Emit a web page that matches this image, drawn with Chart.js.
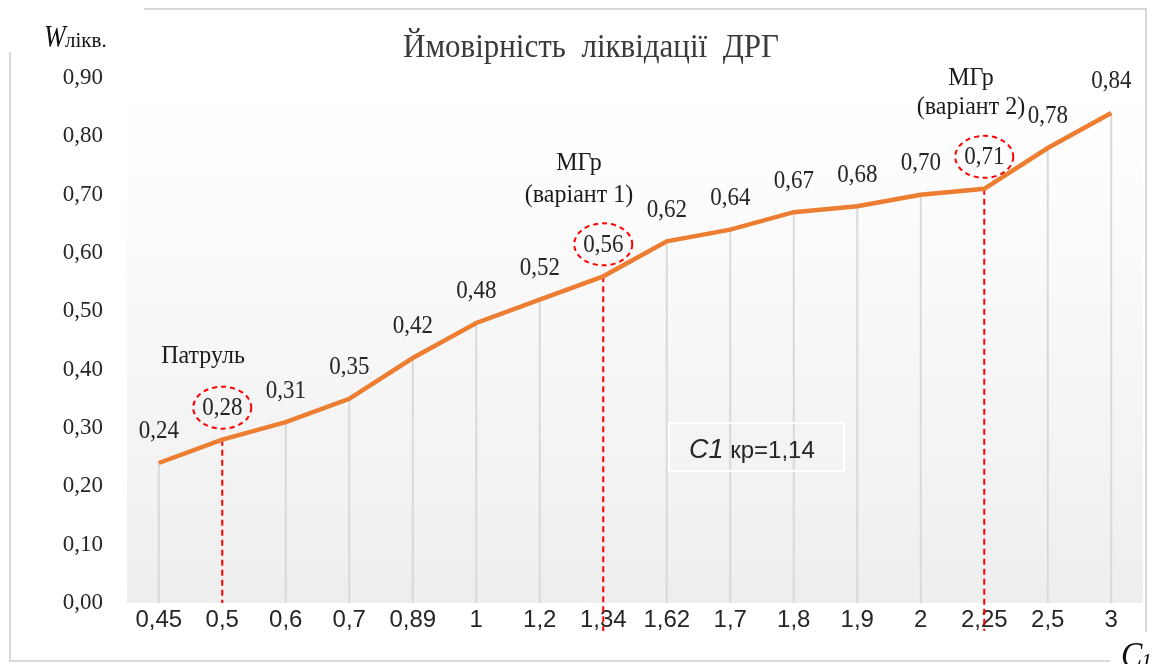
<!DOCTYPE html>
<html lang="uk">
<head>
<meta charset="utf-8">
<title>Ймовірність ліквідації ДРГ</title>
<script src="https://cdn.jsdelivr.net/npm/chart.js@4.4.1/dist/chart.umd.min.js"></script>
<style>
  html, body { margin: 0; padding: 0; background: #fff; }
  #wrap { width: 1156px; height: 664px; }
</style>
</head>
<body>
<div id="wrap"><canvas id="chart" width="1156" height="664"></canvas></div>
<script>
// values
const categories = ['0,45', '0,5', '0,6', '0,7', '0,89', '1', '1,2', '1,34', '1,62', '1,7', '1,8', '1,9', '2', '2,25', '2,5', '3'];
const probability = [0.24, 0.28, 0.31, 0.35, 0.42, 0.48, 0.52, 0.56, 0.62, 0.64, 0.67, 0.68, 0.70, 0.71, 0.78, 0.84];
const yMin = 0, yMax = 0.9, yStep = 0.1;
const markedPoints = ['0,5', '1,34', '2,25'];   // red dashed drop line + circled label

const SERIF = '"Liberation Serif", "Times New Roman", serif';
const SANS = '"Liberation Sans", Arial, sans-serif';

const fmt = v => v.toFixed(2).replace('.', ',');

// text slightly stretched vertically, as in the original picture
function tallText(ctx, text, x, y, sy) {
  ctx.save();
  ctx.translate(x, y);
  ctx.scale(1, sy);
  ctx.fillText(text, 0, 0);
  ctx.restore();
}

const chartDecor = {
  id: 'chartDecor',
  beforeDraw(chart) {
    const { ctx, chartArea: a } = chart;
    ctx.save();
    ctx.fillStyle = '#fff';
    ctx.fillRect(0, 0, chart.width, chart.height);

    // outer frame, broken at the two axis names
    ctx.strokeStyle = '#d9d9d9';
    ctx.lineWidth = 2;
    ctx.strokeRect(10, 9, 1136, 652);
    ctx.fillStyle = '#fff';
    ctx.fillRect(0, 0, 144, 52);
    ctx.fillRect(1110, 632, 46, 32);

    // plot area gradient
    const g = ctx.createLinearGradient(0, a.top - 20, 0, a.bottom);
    g.addColorStop(0, '#ffffff');
    g.addColorStop(0.15, '#fefefe');
    g.addColorStop(1, '#eeeeee');
    ctx.fillStyle = g;
    ctx.fillRect(a.left, a.top - 20, a.right - a.left, a.bottom - a.top + 20);
    ctx.restore();
  },
  beforeDatasetsDraw(chart) {
    const { ctx } = chart;
    const meta = chart.getDatasetMeta(0);
    const y0 = chart.scales.y.getPixelForValue(0);
    ctx.save();
    meta.data.forEach((pt, i) => {
      if (markedPoints.includes(categories[i])) return;
      ctx.strokeStyle = '#d9d9d9';
      ctx.lineWidth = 2;
      ctx.beginPath();
      ctx.moveTo(pt.x, pt.y);
      ctx.lineTo(pt.x, y0);
      ctx.stroke();
    });
    // red dashed drop lines
    ctx.strokeStyle = '#ff0000';
    ctx.lineWidth = 2;
    ctx.setLineDash([6, 4]);
    meta.data.forEach((pt, i) => {
      if (!markedPoints.includes(categories[i])) return;
      const ext = categories[i] === '0,5' ? 0 : 28;
      ctx.beginPath();
      ctx.moveTo(pt.x, pt.y);
      ctx.lineTo(pt.x, y0 + ext);
      ctx.stroke();
    });
    ctx.restore();
  },
  afterDatasetsDraw(chart) {
    const { ctx } = chart;
    const meta = chart.getDatasetMeta(0);
    ctx.save();
    ctx.textAlign = 'center';
    ctx.textBaseline = 'middle';
    ctx.font = '23px ' + SERIF;
    ctx.fillStyle = '#262626';
    meta.data.forEach((pt, i) => {
      const ly = pt.y - 31;
      tallText(ctx, fmt(probability[i]), pt.x, ly, 1.05);
      if (markedPoints.includes(categories[i])) {
        ctx.save();
        ctx.strokeStyle = '#ff0000';
        ctx.lineWidth = 2;
        ctx.setLineDash([5, 4]);
        ctx.beginPath();
        ctx.ellipse(pt.x, ly - 1, 29, 21, 0, 0, Math.PI * 2);
        ctx.stroke();
        ctx.restore();
      }
    });

    // notes next to the marked points
    const notes = [
      { lines: ['Патруль'], x: 203, y: [356] },
      { lines: ['МГр', '(варіант 1)'], x: 579, y: [163, 195] },
      { lines: ['МГр', '(варіант 2)'], x: 971, y: [78, 107] }
    ];
    ctx.font = '24px ' + SERIF;
    ctx.fillStyle = '#1a1a1a';
    notes.forEach(n => n.lines.forEach((t, k) => tallText(ctx, t, n.x, n.y[k], 1.05)));

    // title
    ctx.font = '31px ' + SERIF;
    ctx.fillStyle = '#3a3a3a';
    tallText(ctx, 'Ймовірність  ліквідації  ДРГ', 591, 48, 1.12);

    // y axis name
    ctx.textAlign = 'left';
    ctx.textBaseline = 'alphabetic';
    ctx.fillStyle = '#111';
    ctx.font = 'italic 26px ' + SERIF;
    tallText(ctx, 'W', 44, 47, 1.2);
    ctx.font = '21px ' + SERIF;
    ctx.fillText('лікв.', 65, 47);

    // x axis name
    ctx.font = 'italic 32px ' + SERIF;
    tallText(ctx, 'C', 1121, 667, 1.1);
    ctx.font = 'italic 22px ' + SERIF;
    ctx.fillText('1', 1141, 668);

    // critical value box
    ctx.strokeStyle = '#ffffff';
    ctx.lineWidth = 2;
    ctx.strokeRect(669, 423, 175, 48);
    ctx.fillStyle = '#262626';
    ctx.font = 'italic 27px ' + SANS;
    ctx.fillText('C1', 689, 458);
    const w = ctx.measureText('C1').width;
    ctx.font = '24px ' + SANS;
    ctx.fillText(' кр=1,14', 689 + w, 458);
    ctx.restore();
  }
};

new Chart(document.getElementById('chart'), {
  type: 'line',
  data: {
    labels: categories,
    datasets: [{
      data: probability,
      borderColor: '#ED7D31',
      borderWidth: 4.5,
      pointRadius: 0,
      tension: 0,
      fill: false
    }]
  },
  options: {
    responsive: false,
    animation: false,
    devicePixelRatio: 1,
    layout: { padding: { top: 78, right: 13, left: 0, bottom: 0 } },
    plugins: {
      legend: { display: false },
      tooltip: { enabled: false }
    },
    scales: {
      x: {
        type: 'category',
        offset: true,
        grid: { display: false, drawTicks: false },
        border: { display: false },
        ticks: {
          color: '#262626',
          font: { family: SANS, size: 24 },
          padding: 3,
          maxRotation: 0,
          autoSkip: false
        },
        afterFit: s => { s.height = 61; }
      },
      y: {
        min: yMin,
        max: yMax,
        grid: { display: false, drawTicks: false },
        border: { display: false },
        ticks: {
          stepSize: yStep,
          color: '#262626',
          font: { family: SERIF, size: 23 },
          padding: 24,
          callback: v => fmt(v)
        },
        afterFit: s => { s.width = 127; }
      }
    }
  },
  plugins: [chartDecor]
});
</script>
</body>
</html>
